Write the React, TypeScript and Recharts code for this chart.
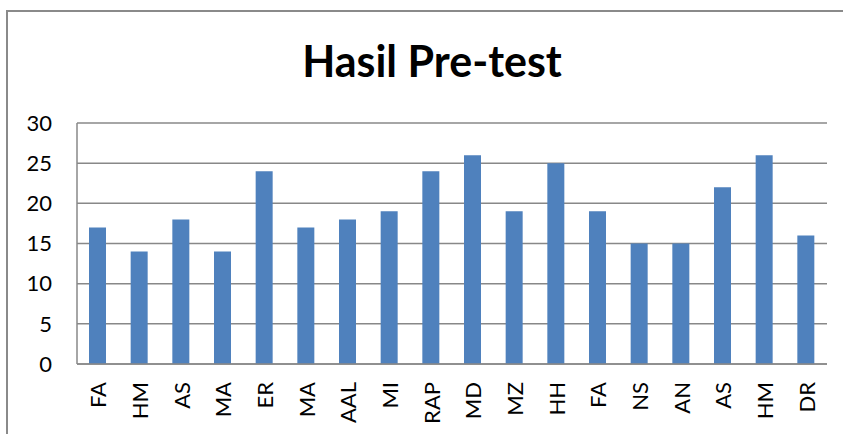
import React from 'react';
import { BarChart, Bar, XAxis, YAxis, CartesianGrid } from 'recharts';

const categories = ['FA', 'HM', 'AS', 'MA', 'ER', 'MA', 'AAL', 'MI', 'RAP', 'MD', 'MZ', 'HH', 'FA', 'NS', 'AN', 'AS', 'HM', 'DR'];
const scores = [17, 14, 18, 14, 24, 17, 18, 19, 24, 26, 19, 25, 19, 15, 15, 22, 26, 16];
const yTicks = [0, 5, 10, 15, 20, 25, 30];
const title = 'Hasil Pre-test';

const data = categories.map((name, i) => ({ key: `${name}-${i}`, name, value: scores[i] }));

const FONT = 'Lato, "Open Sans", sans-serif';

const XTick = (props: any) => {
  const { x, y, payload, index } = props;
  return (
    <text
      x={x}
      y={y}
      transform={`rotate(-90 ${x} ${y})`}
      textAnchor="end"
      dominantBaseline="central"
      fontFamily={FONT}
      fontSize={22}
      fill="#000"
    >
      {categories[index] ?? payload.value}
    </text>
  );
};

export default function App() {
  return (
    <div style={{ position: 'absolute', left: 0, top: 0, width: 843, height: 434, overflow: 'hidden', background: '#fff' }}>
      <svg width={843} height={434} style={{ position: 'absolute', left: 0, top: 0 }}>
        <path d="M7 434 V11 H843" fill="none" stroke="#8a8a8a" strokeWidth={2} />
        <text x={432} y={77} textAnchor="middle" fontFamily={FONT} fontWeight={700} fontSize={43} fill="#000">
          {title}
        </text>
      </svg>
      <div style={{ position: 'absolute', left: 0, top: 0 }}>
        <BarChart width={843} height={434} data={data} margin={{ top: 123, right: 16, bottom: 10, left: 17 }}>
          <CartesianGrid horizontal vertical={false} stroke="#888888" strokeWidth={1.5} />
          <XAxis
            dataKey="key"
            interval={0}
            height={60}
            tickLine={false}
            tickSize={0}
            tickMargin={18}
            axisLine={{ stroke: '#888888', strokeWidth: 1.5 }}
            tick={<XTick />}
          />
          <YAxis
            domain={[0, 30]}
            ticks={yTicks}
            interval={0}
            width={60}
            tickLine={false}
            tickSize={0}
            tickMargin={25}
            axisLine={{ stroke: '#888888', strokeWidth: 1.5 }}
            tick={{ fontFamily: FONT, fontSize: 22, fill: '#000' }}
          />
          <Bar dataKey="value" fill="#4F81BD" barSize={17} isAnimationActive={false} />
        </BarChart>
      </div>
    </div>
  );
}
